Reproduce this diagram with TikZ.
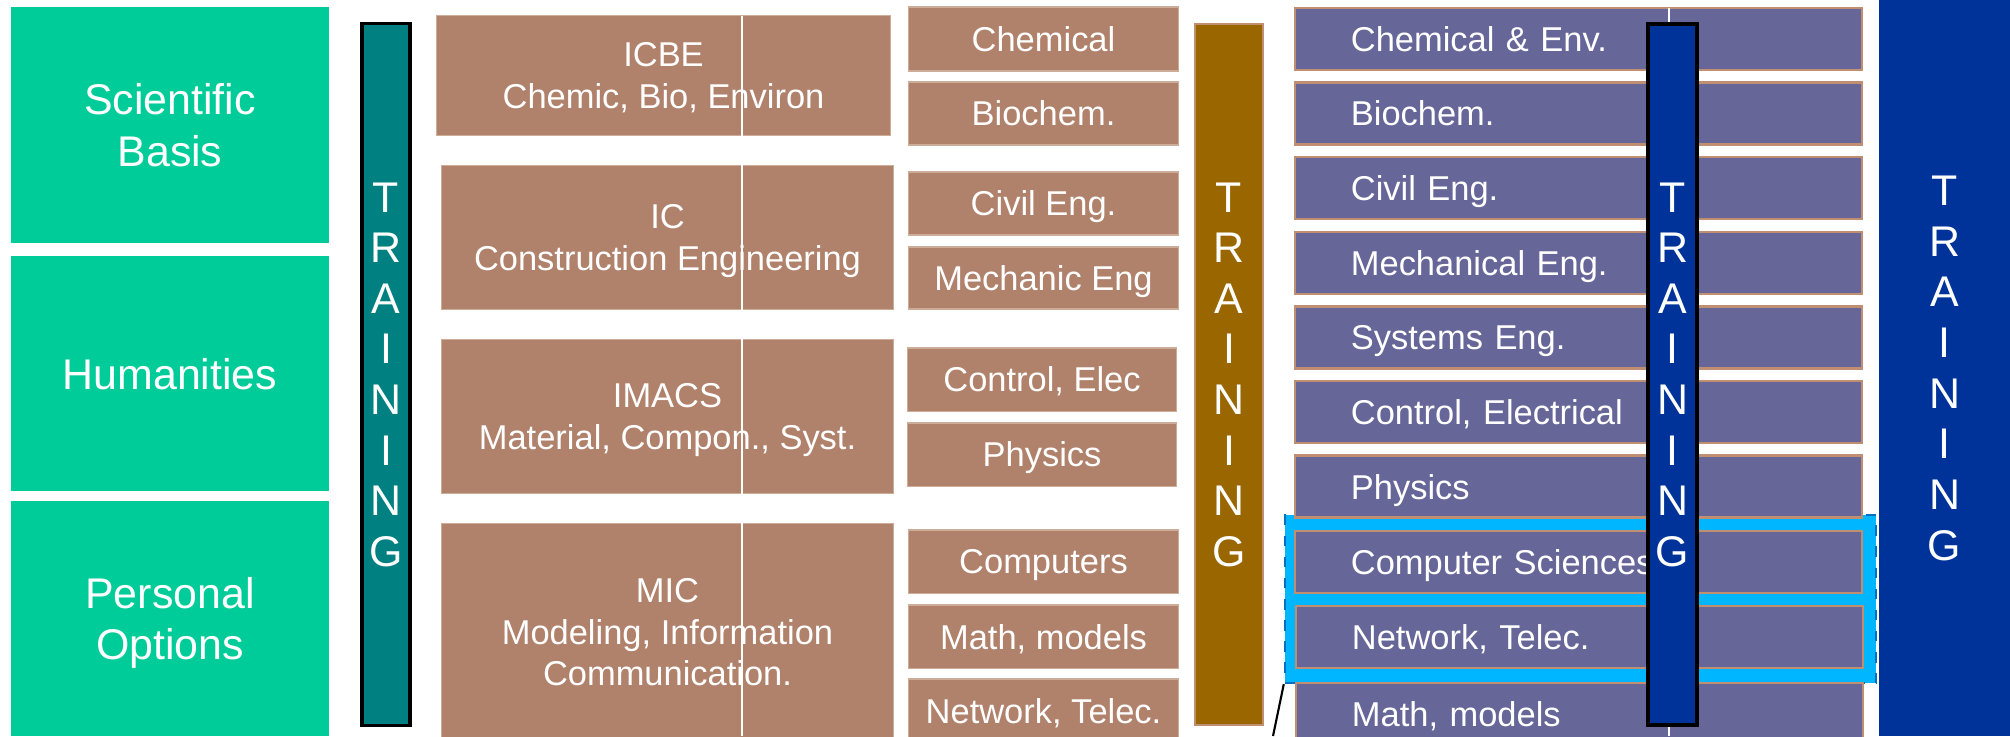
\documentclass[tikz,border=0pt]{standalone}
\usepackage{fontspec}
\setmainfont{Liberation Sans}
\usepackage{tikz}
\usetikzlibrary{backgrounds}
\definecolor{mygreen}{RGB}{0,204,153}
\definecolor{mybrown}{RGB}{176,130,108}
\definecolor{mybrown2}{RGB}{205,172,152}
\definecolor{myteal}{RGB}{0,128,128}
\definecolor{myochre}{RGB}{153,102,0}
\definecolor{mypurple}{RGB}{102,102,153}
\definecolor{mytan}{RGB}{192,142,112}
\definecolor{myblue}{RGB}{0,51,153}
\definecolor{mycyan}{RGB}{0,182,255}
\definecolor{mydash}{RGB}{0,112,192}
\tikzset{
  basebox/.style={rectangle, inner sep=0pt, text=white, align=center, text depth=0pt},
  greenbox/.style={basebox, fill=mygreen, minimum width=3.18cm, minimum height=2.35cm,
    font=\fontsize{12.2}{14.7}\selectfont},
  schoolbox/.style={basebox, fill=mybrown, draw=mybrown2, line width=0.3pt, minimum width=4.51cm,
    font=\fontsize{9.8}{11.8}\selectfont},
  deptbox/.style={basebox, fill=mybrown, draw=mybrown2, line width=0.3pt, minimum width=2.69cm,
    minimum height=0.63cm, font=\fontsize{9.8}{11.8}\selectfont},
  majorbox/.style={basebox, fill=mypurple, draw=mytan, line width=0.6pt, minimum width=5.67cm,
    minimum height=0.62cm, inner xsep=0.56cm, text width=4.55cm, align=left,
    font=\fontsize{9.8}{11.8}\selectfont},
  trainbar/.style={basebox, minimum height=7.01cm, font=\fontsize{12.2}{14.4}\selectfont}
}
\newcommand{\training}{T\\R\\A\\I\\N\\I\\N\\G}

\begin{document}
\begin{tikzpicture}[x=0.01cm, y=-0.01cm]
\useasboundingbox (0,0) rectangle (2010,736);
% left column
\node[greenbox] (gSB) at (170,125) {Scientific\\Basis};
\node[greenbox] (gHU) at (170,373.5) {Humanities};
\node[greenbox] (gPO) at (170,618.5) {Personal\\Options};
\node[trainbar, fill=myteal, draw=black, line width=0.9pt, minimum width=0.48cm] (tTR) at (386,374.5) {\training};
% schools
\node[schoolbox, minimum width=4.53cm, minimum height=1.19cm] (bICBE) at (663.5,75.5) {ICBE\\Chemic, Bio, Environ};
\node[schoolbox, minimum height=1.43cm] (bIC) at (667.5,237.5) {IC\\Construction Engineering};
\node[schoolbox, minimum height=1.53cm] (bIMACS) at (667.5,416.5) {IMACS\\Material, Compon., Syst.};
\node[schoolbox, minimum height=2.16cm] (bMIC) at (667.5,632) {MIC\\Modeling, Information\\Communication.};
\draw[white, line width=0.7pt] (742,16) -- (742,736);
% departments
\node[deptbox, minimum height=0.64cm] (dCH) at (1043.5,39) {Chemical};
\node[deptbox] (dBC) at (1043.5,113.5) {Biochem.};
\node[deptbox] (dCV) at (1043.5,203.5) {Civil Eng.};
\node[deptbox, minimum height=0.62cm] (dME) at (1043.5,278) {Mechanic Eng};
\node[deptbox] (dCT) at (1042,379.5) {Control, Elec};
\node[deptbox] (dPH) at (1042,454.5) {Physics};
\node[deptbox] (dCO) at (1043.5,561.5) {Computers};
\node[deptbox] (dMM) at (1043.5,636.5) {Math, models};
\node[deptbox] (dNT) at (1043.5,710.5) {Network, Telec.};
\node[trainbar, fill=myochre, draw=mytan, line width=0.5pt, minimum width=0.68cm] (oTR) at (1229,374.5) {\training};
% majors
\node[majorbox] (pCE) at (1578.5,39) {Chemical \& Env.};
\node[majorbox] (pBC) at (1578.5,113.5) {Biochem.};
\node[majorbox] (pCV) at (1578.5,188) {Civil Eng.};
\node[majorbox] (pME) at (1578.5,263) {Mechanical Eng.};
\node[majorbox] (pSY) at (1578.5,337.5) {Systems Eng.};
\node[majorbox] (pCT) at (1578.5,412) {Control, Electrical};
\node[majorbox] (pPH) at (1578.5,486.5) {Physics};
\node[majorbox] (pCS) at (1578.5,562) {Computer Sciences};
\node[majorbox] (pNT) at (1579.5,637) {Network, Telec.};
\node[majorbox] (pMM) at (1579.5,714) {Math, models};
\begin{scope}[on background layer]
\node[rectangle, fill=mycyan, draw=mydash, dashed, line width=0.6pt, minimum width=5.91cm, minimum height=1.68cm] (hl) at (1580.5,599) {};
\end{scope}
\draw[white, line width=0.7pt] (1669,8) -- (1669,736);
\node[trainbar, fill=myblue, draw=black, line width=1.2pt, minimum width=0.49cm] (nTR) at (1672.5,374.5) {\training};
\node[trainbar, fill=myblue, minimum width=1.31cm, minimum height=7.36cm] (wTR) at (1944.5,368) {\training};
\coordinate (callout) at (1273,736);
\draw[black, line width=0.6pt] (hl.south west) -- (callout);
\end{tikzpicture}
\end{document}
